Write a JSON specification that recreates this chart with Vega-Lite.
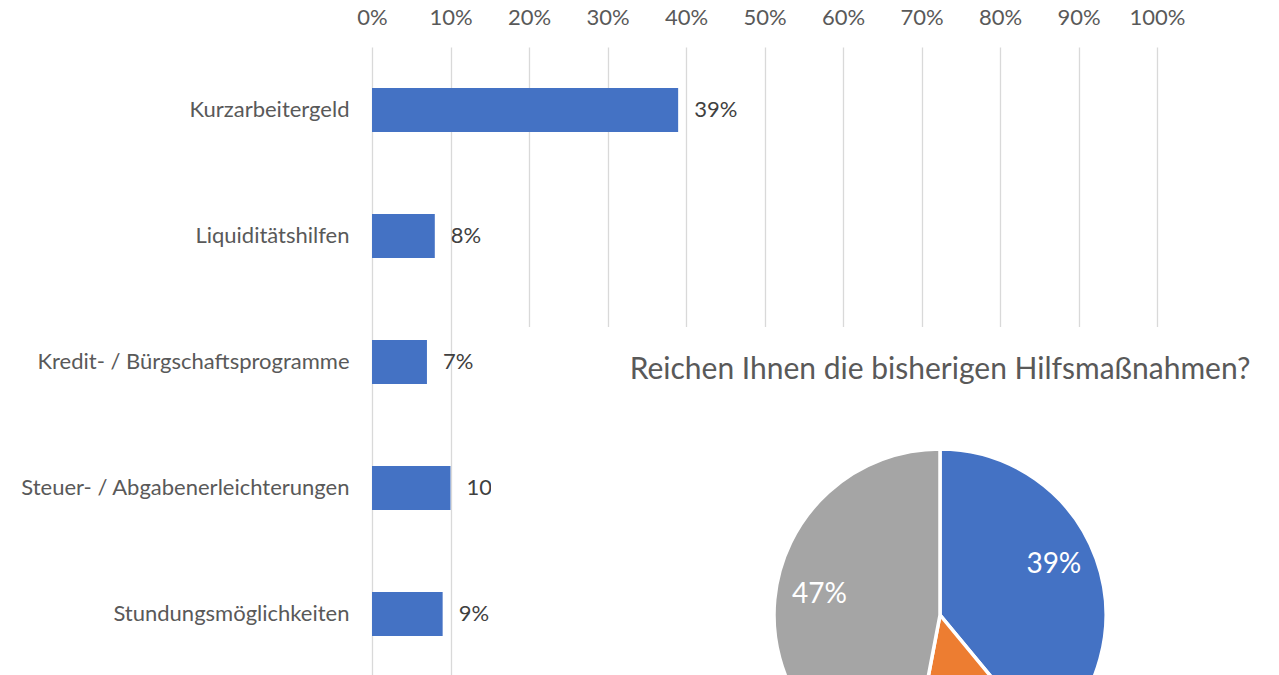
{
  "$schema": "https://vega.github.io/schema/vega-lite/v6.json",
  "width": 785,
  "height": 628,
  "autosize": {"type": "none"},
  "padding": {"left": 372, "top": 47, "right": 122, "bottom": 0},
  "background": "white",
  "config": {"font": "Lato", "view": {"stroke": null}},
  "datasets": {
    "bars": [
      {"category": "Kurzarbeitergeld", "share": 0.39},
      {"category": "Liquiditätshilfen", "share": 0.08},
      {"category": "Kredit- / Bürgschaftsprogramme", "share": 0.07},
      {"category": "Steuer- / Abgabenerleichterungen", "share": 0.10},
      {"category": "Stundungsmöglichkeiten", "share": 0.09}
    ],
    "pie": [
      {"answer": "Ja", "share": 0.39, "idx": 1},
      {"answer": "Nein", "share": 0.14, "idx": 2},
      {"answer": "Teilweise", "share": 0.47, "idx": 3}
    ],
    "title": [
      {"text": "Reichen Ihnen die bisherigen Hilfsmaßnahmen?"}
    ]
  },
  "layer": [
    {
      "data": {"name": "bars"},
      "mark": {"type": "bar", "color": "#4472C4"},
      "encoding": {
        "x": {
          "field": "share", "type": "quantitative",
          "scale": {"domain": [0, 1]},
          "axis": {
            "orient": "top", "values": [0, 0.1, 0.2, 0.3, 0.4, 0.5, 0.6, 0.7, 0.8, 0.9, 1],
            "format": ".0%", "title": null, "domain": false, "ticks": false,
            "labelFontSize": 22, "labelColor": "#595959", "labelPadding": 18,
            "labelFlush": false, "labelOverlap": false,
            "gridColor": "#d9d9d9", "gridWidth": 1.3
          }
        },
        "y": {
          "field": "category", "type": "nominal", "sort": null,
          "scale": {"range": [0, 630], "paddingInner": 0.65, "paddingOuter": 0.325},
          "axis": {
            "title": null, "domain": false, "ticks": false, "grid": false,
            "labelFontSize": 22, "labelColor": "#595959", "labelPadding": 23,
            "labelLimit": 500
          }
        }
      }
    },
    {
      "data": {"name": "bars"},
      "mark": {"type": "text", "align": "left", "baseline": "middle", "dx": 16, "fontSize": 22, "color": "#404040"},
      "encoding": {
        "x": {"field": "share", "type": "quantitative"},
        "y": {"field": "category", "type": "nominal", "sort": null},
        "text": {"field": "share", "type": "quantitative", "format": ".0%"}
      }
    },
    {
      "data": {"values": [{}]},
      "mark": {"type": "rect", "fill": "white", "x": 119, "x2": 910, "y": 280, "y2": 640},
      "encoding": {}
    },
    {
      "data": {"name": "title"},
      "mark": {"type": "text", "x": 568, "y": 323, "align": "center", "baseline": "middle", "fontSize": 30, "color": "#595959"},
      "encoding": {"text": {"field": "text", "type": "nominal"}}
    },
    {
      "data": {"name": "pie"},
      "mark": {"type": "arc", "x": 568, "y": 568, "outerRadius": 166, "stroke": "white", "strokeWidth": 3.5},
      "encoding": {
        "theta": {"field": "share", "type": "quantitative", "stack": true, "scale": {"type": "linear", "domain": [0, 1], "range": [0, 6.283185307179586]}},
        "order": {"field": "idx", "type": "quantitative"},
        "color": {"field": "answer", "type": "nominal", "sort": ["Ja", "Nein", "Teilweise"], "scale": {"range": ["#4472C4", "#ED7D31", "#A5A5A5"]}, "legend": null}
      }
    },
    {
      "data": {"name": "pie"},
      "mark": {"type": "text", "x": 568, "y": 568, "radius": 121, "dy": -9, "fontSize": 28, "color": "white", "align": "center", "baseline": "middle"},
      "encoding": {
        "theta": {"field": "share", "type": "quantitative", "stack": true, "scale": {"type": "linear", "domain": [0, 1], "range": [0, 6.283185307179586]}},
        "order": {"field": "idx", "type": "quantitative"},
        "text": {
          "condition": {"test": "datum.answer == 'Nein'", "value": ""},
          "field": "share", "type": "quantitative", "format": ".0%"
        }
      }
    }
  ]
}
